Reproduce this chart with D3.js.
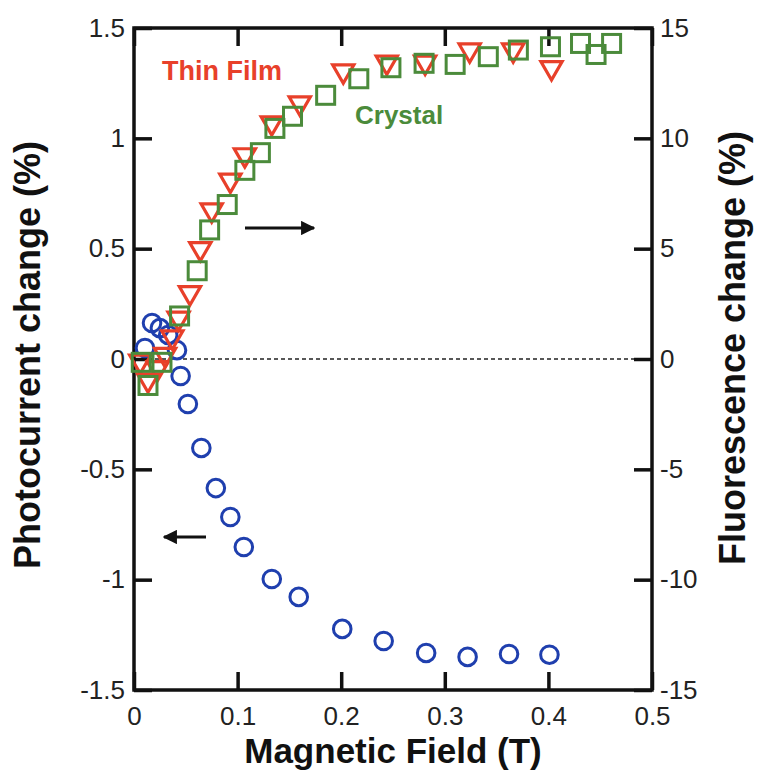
<!DOCTYPE html>
<html>
<head>
<meta charset="utf-8">
<script src="https://cdn.jsdelivr.net/npm/d3@7"></script>
<style>
  body { margin: 0; background: #fff; }
  svg { display: block; font-family: "Liberation Sans", Arial, sans-serif; }
  .tick text { font-size: 26px; fill: #222; }
</style>
</head>
<body>
<svg id="chart" width="757" height="772"></svg>
<script>
// photocurrent (left axis), blue circles
var photoField = [0.0106, 0.0174, 0.025, 0.033, 0.0415, 0.045, 0.052, 0.065, 0.079, 0.093, 0.106, 0.133, 0.159, 0.201, 0.241, 0.282, 0.322, 0.362, 0.401];
var photoChange = [0.05, 0.163, 0.14, 0.109, 0.04, -0.077, -0.204, -0.403, -0.585, -0.716, -0.852, -0.997, -1.078, -1.223, -1.278, -1.332, -1.35, -1.337, -1.34];

// fluorescence (right axis), thin film = red triangles
var filmField = [0.006, 0.0135, 0.023, 0.030, 0.037, 0.043, 0.054, 0.064, 0.075, 0.093, 0.107, 0.133, 0.160, 0.202, 0.244, 0.281, 0.324, 0.366, 0.403];
var filmChange = [-0.1, -0.95, -0.4, 0.2, 1.0, 1.85, 3.0, 5.0, 6.75, 8.1, 9.25, 10.7, 11.6, 13.05, 13.45, 13.45, 14.0, 14.0, 13.2];

// fluorescence, crystal = green squares
var crystalField = [0.007, 0.0135, 0.027, 0.044, 0.061, 0.073, 0.090, 0.107, 0.122, 0.136, 0.153, 0.185, 0.217, 0.248, 0.280, 0.310, 0.342, 0.371, 0.402, 0.431, 0.446, 0.461];
var crystalChange = [-0.15, -1.2, -0.15, 1.95, 4.0, 5.85, 7.0, 8.55, 9.35, 10.45, 11.0, 11.95, 12.7, 13.2, 13.4, 13.35, 13.7, 14.0, 14.15, 14.3, 13.8, 14.3];

var xTicks = [0, 0.1, 0.2, 0.3, 0.4, 0.5];
var leftTicks = [-1.5, -1, -0.5, 0, 0.5, 1, 1.5];
var rightTicks = [-15, -10, -5, 0, 5, 10, 15];

var pL = 134, pR = 652, pT = 28, pB = 690; // plot frame
var svg = d3.select("#chart");

var x = d3.scaleLinear().domain([0, 0.5]).range([pL, pR]);
var yL = d3.scaleLinear().domain([-1.5, 1.5]).range([pB, pT]);
var yR = d3.scaleLinear().domain([-15, 15]).range([pB, pT]);

var fmt = function(d){ return String(d); };

// zero line
svg.append("line")
  .attr("x1", x(0)).attr("x2", x(0.5))
  .attr("y1", yL(0)).attr("y2", yL(0))
  .attr("stroke", "#222").attr("stroke-width", 1.3)
  .attr("stroke-dasharray", "4,3");

// axes, ticks pointing inward
var gx = svg.append("g").attr("transform", "translate(0," + pB + ")")
  .call(d3.axisBottom(x).tickValues(xTicks).tickFormat(fmt).tickSize(-18).tickPadding(17));
var gxt = svg.append("g").attr("transform", "translate(0," + pT + ")")
  .call(d3.axisTop(x).tickValues(xTicks).tickFormat("").tickSize(-18));
var gl = svg.append("g").attr("transform", "translate(" + pL + ",0)")
  .call(d3.axisLeft(yL).tickValues(leftTicks).tickFormat(fmt).tickSize(-18).tickPadding(9));
var gr = svg.append("g").attr("transform", "translate(" + pR + ",0)")
  .call(d3.axisRight(yR).tickValues(rightTicks).tickFormat(fmt).tickSize(-18).tickPadding(8));

[gx, gxt, gl, gr].forEach(function(g){
  g.select(".domain").remove();
  g.selectAll(".tick line").attr("stroke", "#111").attr("stroke-width", 3.5);
});

// frame
svg.append("rect")
  .attr("x", pL).attr("y", pT)
  .attr("width", pR - pL).attr("height", pB - pT)
  .attr("fill", "none").attr("stroke", "#111").attr("stroke-width", 3.5);

// circles
svg.append("g").selectAll("circle")
  .data(photoField)
  .enter()
  .append("circle")
  .attr("cx", function(d){ return x(d); })
  .attr("cy", function(d, i){ return yL(photoChange[i]); })
  .attr("r", 8.8)
  .attr("fill", "none")
  .attr("stroke", "#1f3fae")
  .attr("stroke-width", 3);

// triangles (pointing down)
var tri = d3.symbol().type(d3.symbolTriangle).size(195);
svg.append("g").selectAll("path")
  .data(filmField)
  .enter()
  .append("path")
  .attr("d", tri)
  .attr("transform", function(d, i){ return "translate(" + x(d) + "," + yR(filmChange[i]) + ") rotate(180)"; })
  .attr("fill", "none")
  .attr("stroke", "#e8402a")
  .attr("stroke-width", 3.2)
  .attr("stroke-linejoin", "miter");

// squares
var sq = 18;
svg.append("g").selectAll("rect")
  .data(crystalField)
  .enter()
  .append("rect")
  .attr("x", function(d){ return x(d) - sq/2; })
  .attr("y", function(d, i){ return yR(crystalChange[i]) - sq/2; })
  .attr("width", sq).attr("height", sq)
  .attr("fill", "none")
  .attr("stroke", "#4b8b3b")
  .attr("stroke-width", 3);

// arrows
svg.append("defs").append("marker")
  .attr("id", "head")
  .attr("viewBox", "0 0 10 10")
  .attr("refX", 9).attr("refY", 5)
  .attr("markerWidth", 4.8).attr("markerHeight", 4.8)
  .attr("markerUnits", "strokeWidth")
  .attr("orient", "auto")
  .append("path").attr("d", "M0,0L10,5L0,10z").attr("fill", "#111");

svg.append("line")
  .attr("x1", 245).attr("y1", 228).attr("x2", 314).attr("y2", 228)
  .attr("stroke", "#111").attr("stroke-width", 3).attr("marker-end", "url(#head)");
svg.append("line")
  .attr("x1", 206).attr("y1", 537).attr("x2", 164).attr("y2", 537)
  .attr("stroke", "#111").attr("stroke-width", 3).attr("marker-end", "url(#head)");

// series labels
svg.append("text").attr("x", 162).attr("y", 80)
  .attr("font-size", 27).attr("font-weight", "bold").attr("fill", "#e8402a")
  .text("Thin Film");
svg.append("text").attr("x", 355).attr("y", 124)
  .attr("font-size", 26).attr("font-weight", "bold").attr("fill", "#4b8b3b")
  .text("Crystal");

// axis titles
svg.append("text").attr("x", (pL + pR) / 2).attr("y", 763)
  .attr("text-anchor", "middle").attr("font-size", 35).attr("font-weight", "bold").attr("fill", "#111")
  .text("Magnetic Field (T)");
svg.append("text").attr("transform", "translate(40,355) rotate(-90)")
  .attr("text-anchor", "middle").attr("font-size", 36).attr("font-weight", "bold").attr("fill", "#111")
  .text("Photocurrent change (%)");
svg.append("text").attr("transform", "translate(745,348) rotate(-90)")
  .attr("text-anchor", "middle").attr("font-size", 36).attr("font-weight", "bold").attr("fill", "#111")
  .text("Fluorescence change (%)");
</script>
</body>
</html>
